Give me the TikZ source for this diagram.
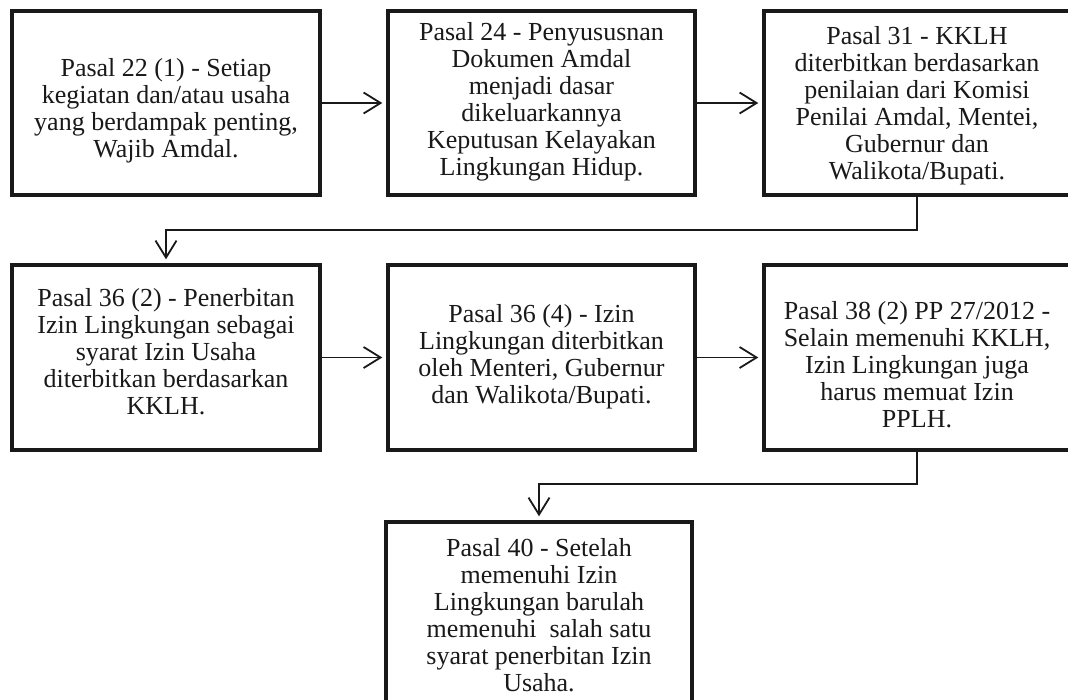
\documentclass[tikz,border=0pt]{standalone}
\usepackage{fontspec}
\setmainfont{Liberation Serif}
\usetikzlibrary{arrows.meta}
\begin{document}
\begin{tikzpicture}[x=1pt,y=-1pt,
  box/.style={draw=black!90, line width=3.4pt, fill=white, inner sep=0pt},
  txt/.style={align=center, inner sep=0pt, text=black!90, font=\fontsize{26}{27}\selectfont},
  conn/.style={draw=black!90, line width=1.7pt, shorten >=4pt,
    -{Straight Barb[length=17pt,width=21pt,line width=1.8pt]}}]
\useasboundingbox (0,0) rectangle (1068,699);
\clip (0,0) rectangle (1068,699);
\fill[white] (0,0) rectangle (1068,699);
% row 1
\node[box, minimum width=308pt, minimum height=184pt] (b1) at (166,103) {};
\node[box, minimum width=307pt, minimum height=184pt] (b2) at (541.5,103) {};
\node[box, minimum width=306pt, minimum height=184pt] (b3) at (917,103) {};
% row 2
\node[box, minimum width=308pt, minimum height=185pt] (b4) at (166,357.5) {};
\node[box, minimum width=307pt, minimum height=185pt] (b5) at (541.5,357.5) {};
\node[box, minimum width=306pt, minimum height=185pt] (b6) at (917,357.5) {};
% row 3
\node[box, minimum width=306pt, minimum height=184pt] (b7) at (539,614) {};
% texts
\node[txt] (t1) at (166,111) {Pasal 22 (1) - Setiap\\kegiatan dan/atau usaha\\yang berdampak penting,\\Wajib Amdal.};
\node[txt] (t2) at (541.5,102) {Pasal 24 - Penyususnan\\Dokumen Amdal\\menjadi dasar\\dikeluarkannya\\Keputusan Kelayakan\\Lingkungan Hidup.};
\node[txt] (t3) at (917,106) {Pasal 31 - KKLH\\diterbitkan berdasarkan\\penilaian dari Komisi\\Penilai Amdal, Mentei,\\Gubernur dan\\Walikota/Bupati.};
\node[txt] (t4) at (166,352) {Pasal 36 (2) - Penerbitan\\Izin Lingkungan sebagai\\syarat Izin Usaha\\diterbitkan berdasarkan\\KKLH.};
\node[txt] (t5) at (541.5,357) {Pasal 36 (4) - Izin\\Lingkungan diterbitkan\\oleh Menteri, Gubernur\\dan Walikota/Bupati.};
\node[txt] (t6) at (917,365) {Pasal 38 (2) PP 27/2012 -\\Selain memenuhi KKLH,\\Izin Lingkungan juga\\harus memuat Izin\\PPLH.};
\node[txt] (t7) at (539,615) {Pasal 40 - Setelah\\memenuhi Izin\\Lingkungan barulah\\memenuhi\ \ salah satu\\syarat penerbitan Izin\\Usaha.};
% connectors
\draw[conn] (b1.east) -- (b2.west);
\draw[conn] (b2.east) -- (b3.west);
\draw[conn] (b4.east) -- (b5.west);
\draw[conn] (b5.east) -- (b6.west);
\coordinate (k1) at (917,230);
\coordinate (k2) at (917,484);
\draw[conn] (b3.south) -- (k1) -| (b4.north);
\draw[conn] (b6.south) -- (k2) -| (b7.north);
\end{tikzpicture}
\end{document}
